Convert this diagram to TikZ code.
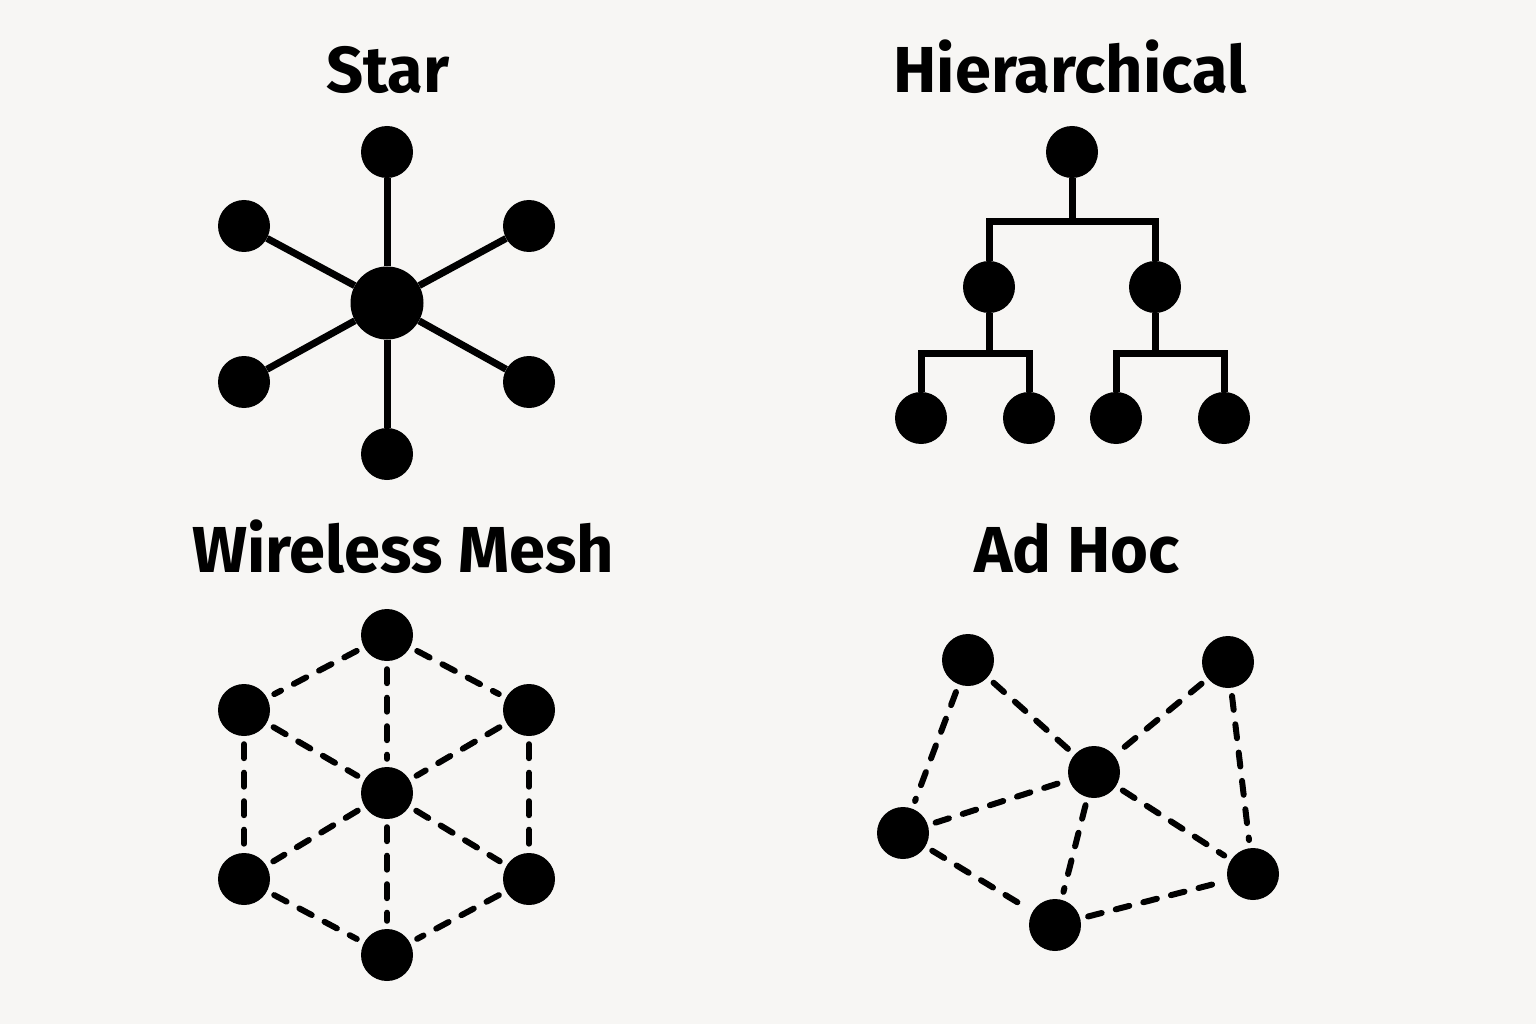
\documentclass[tikz,border=0pt]{standalone}
\usepackage{fontspec}
\setmainfont{Fira Sans}
\begin{document}
\definecolor{bgc}{HTML}{F7F6F4}
\begin{tikzpicture}[x=1pt,y=-1pt,
  dot/.style={circle,fill=black,inner sep=0pt,minimum size=52pt},
  hub/.style={circle,fill=black,inner sep=0pt,minimum size=73pt},
  solidlink/.style={line width=7pt},
  dashlink/.style={line width=6pt,line cap=round,dash pattern=on 14pt off 14.5pt,shorten <=8pt,shorten >=8pt},
  title/.style={font=\fontsize{65}{70}\selectfont\bfseries,anchor=base,inner sep=0pt}]
\fill[bgc] (0,0) rectangle (1536,1024);
\useasboundingbox (0,0) rectangle (1536,1024);
% titles
\node[title] (tstar) at (388,93) {Star};
\node[title] (thier) at (1070,93) {Hierarchical};
\node[title] (tmesh) at (403,572) {Wireless Mesh};
\node[title] (tadhoc) at (1077,572) {Ad Hoc};
% Star
\node[hub] (sc) at (387,303) {};
\node[dot] (s1) at (387,152) {};
\node[dot] (s2) at (244,226) {};
\node[dot] (s3) at (529,226) {};
\node[dot] (s4) at (244,382) {};
\node[dot] (s5) at (529,382) {};
\node[dot] (s6) at (387,454) {};
\foreach \n in {s1,s2,s3,s4,s5,s6} \draw[solidlink] (sc) -- (\n);
% Hierarchical
\node[dot] (h0) at (1072,152) {};
\node[dot] (h1) at (989,287) {};
\node[dot] (h2) at (1155,287) {};
\node[dot] (h3) at (921,418) {};
\node[dot] (h4) at (1029,418) {};
\node[dot] (h5) at (1116,418) {};
\node[dot] (h6) at (1224,418) {};
\coordinate (hb0) at (1072,222);
\coordinate (hb1) at (989,353);
\coordinate (hb2) at (1155,353);
\draw[solidlink] (h0) -- (hb0);
\draw[solidlink] (h1) |- (hb0) -| (h2);
\draw[solidlink] (h1) -- (hb1);
\draw[solidlink] (h3) |- (hb1) -| (h4);
\draw[solidlink] (h2) -- (hb2);
\draw[solidlink] (h5) |- (hb2) -| (h6);
% Wireless Mesh
\node[dot] (m1) at (387,635) {};
\node[dot] (m2) at (244,710) {};
\node[dot] (m3) at (529,710) {};
\node[dot] (m0) at (387,793) {};
\node[dot] (m4) at (244,879) {};
\node[dot] (m5) at (529,879) {};
\node[dot] (m6) at (387,955) {};
\draw[dashlink] (m1) -- (m2);
\draw[dashlink] (m1) -- (m3);
\draw[dashlink] (m1) -- (m0);
\draw[dashlink] (m2) -- (m0);
\draw[dashlink] (m3) -- (m0);
\draw[dashlink] (m2) -- (m4);
\draw[dashlink] (m3) -- (m5);
\draw[dashlink] (m0) -- (m4);
\draw[dashlink] (m0) -- (m5);
\draw[dashlink] (m0) -- (m6);
\draw[dashlink] (m4) -- (m6);
\draw[dashlink] (m5) -- (m6);
% Ad Hoc
\node[dot] (a1) at (968,660) {};
\node[dot] (a2) at (1228,662) {};
\node[dot] (a0) at (1094,772) {};
\node[dot] (a3) at (903,833) {};
\node[dot] (a4) at (1253,874) {};
\node[dot] (a5) at (1055,925) {};
\draw[dashlink] (a1) -- (a3);
\draw[dashlink] (a1) -- (a0);
\draw[dashlink] (a2) -- (a0);
\draw[dashlink] (a2) -- (a4);
\draw[dashlink] (a3) -- (a0);
\draw[dashlink] (a3) -- (a5);
\draw[dashlink] (a0) -- (a5);
\draw[dashlink] (a0) -- (a4);
\draw[dashlink] (a5) -- (a4);
\end{tikzpicture}
\end{document}
